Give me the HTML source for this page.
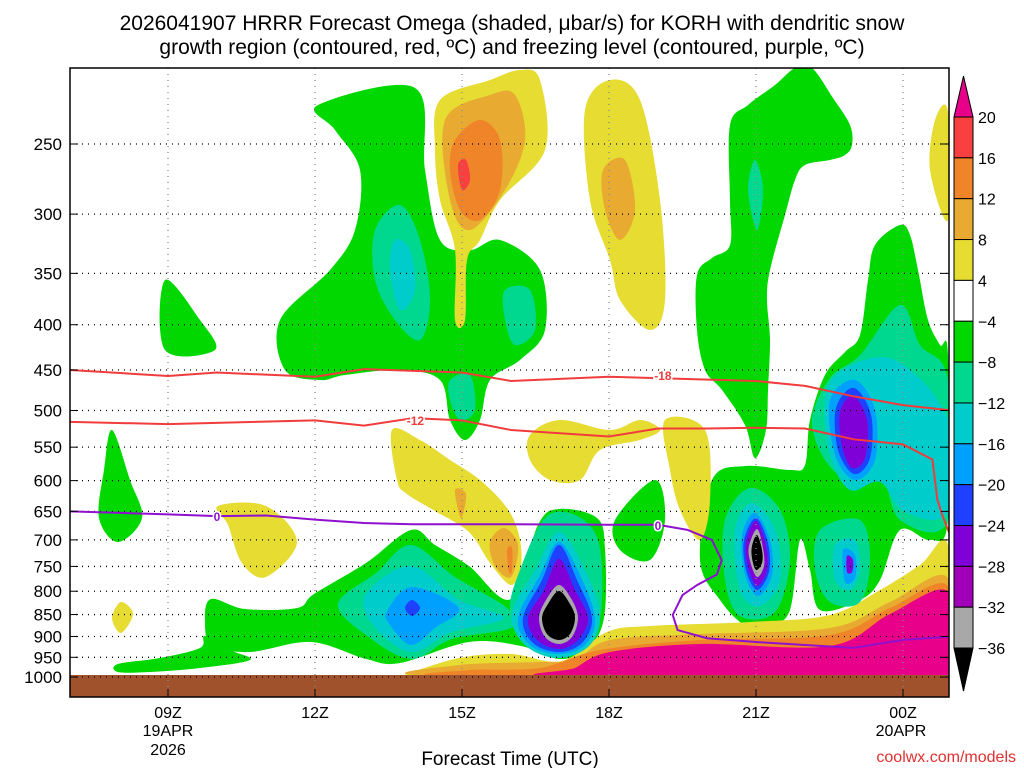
<!DOCTYPE html>
<html><head><meta charset="utf-8"><style>
body{margin:0;background:#fff;width:1024px;height:768px;overflow:hidden;font-family:"Liberation Sans",sans-serif}
svg{display:block}
</style></head><body>
<svg id="chart" width="1024" height="768" xmlns="http://www.w3.org/2000/svg">
<text x="512" y="30" font-size="21" text-anchor="middle">2026041907 HRRR Forecast Omega (shaded, μbar/s) for KORH with dendritic snow</text>
<text x="512" y="54" font-size="21" text-anchor="middle">growth region (contoured, red, ºC) and freezing level (contoured, purple, ºC)</text>
<g id="fills"></g><g id="grid"></g><g id="lines"></g><g id="axes"></g><g id="cbar"></g>
<text x="510" y="765" font-size="19" text-anchor="middle">Forecast Time (UTC)</text>
<text x="1016" y="762" font-size="16" fill="#e03030" text-anchor="end">coolwx.com/models</text>
</svg>
<script>
const NS="http://www.w3.org/2000/svg";
const L=70,R=949,T=68,B=697;
const pressureTicks=[250,300,350,400,450,500,550,600,650,700,750,800,850,900,950,1000];
const hourTicks=[9,12,15,18,21,24];
const hourLabels=["09Z","12Z","15Z","18Z","21Z","00Z"];
const cbLevels=[20,16,12,8,4,-4,-8,-12,-16,-20,-24,-28,-32,-36];
const cbColors=["#f84040","#f08428","#e8aa30","#e6dc32","#ffffff","#00d800","#00d890","#00cccc","#00a0ff","#2040ff","#8000d8","#a000b8","#a8a8a8"];
const col={20:"#e8008a",16:"#f84040",12:"#f08428",8:"#e8aa30",4:"#e6dc32","-4":"#00d800","-8":"#00d890","-12":"#00cccc","-16":"#00a0ff","-20":"#2040ff","-24":"#8000d8","-28":"#a000b8","-32":"#a8a8a8","-36":"#000000"};
const xs=h=>168+(h-9)*49;
const ys=p=>144+(Math.log(p)-Math.log(250))*384.5;
// shaded omega regions: [level, grid points in plot pixel grid (x,y)]
const regions=[
[-4,[[318,105],[415,88],[425,170],[440,240],[470,250],[500,240],[540,270],[545,330],[520,360],[490,380],[480,420],[465,440],[450,420],[440,380],[400,370],[345,375],[320,380],[285,370],[280,320],[330,270],[355,230],[360,170],[335,130]]],
[-4,[[795,68],[812,68],[833,98],[850,125],[852,145],[845,155],[830,160],[805,165],[795,180],[785,215],[770,270],[767,300],[770,340],[768,390],[766,430],[755,458],[745,425],[722,390],[705,370],[697,330],[697,275],[712,258],[730,245],[730,200],[730,125],[748,105],[775,85]]],
[-4,[[700,560],[712,480],[745,466],[790,470],[805,465],[810,420],[825,375],[845,352],[860,335],[868,280],[875,245],[900,225],[910,235],[918,270],[928,320],[940,345],[948,355],[948,520],[930,540],[900,530],[880,580],[860,600],[820,610],[810,570],[800,540],[790,610],[770,625],[745,625],[720,600]]],
[-4,[[165,280],[200,320],[215,350],[165,350]]],
[-4,[[112,430],[130,480],[142,518],[118,542],[99,518],[104,470]]],
[-4,[[211,599],[245,609],[297,608],[314,594],[366,563],[411,530],[435,545],[469,566],[511,599],[538,525],[559,509],[597,518],[605,549],[604,618],[587,649],[559,659],[521,646],[469,642],[400,663],[366,659],[311,642],[250,652],[212,645],[205,622]]],
[-4,[[205,636],[230,650],[250,660],[200,668],[150,672],[118,672],[118,664],[160,658],[200,648]]],
[-4,[[615,520],[655,480],[665,520],[650,560],[620,550]]],
[4,[[440,100],[490,80],[520,70],[540,80],[545,150],[500,200],[480,240],[467,260],[465,320],[455,320],[455,250],[440,200],[435,150]]],
[4,[[585,110],[610,80],[640,100],[660,200],[665,300],[650,330],[620,300],[610,260],[590,200]]],
[4,[[392,430],[397,480],[407,494],[435,511],[469,532],[490,563],[511,585],[521,566],[519,535],[507,508],[480,480],[450,460],[420,440]]],
[4,[[530,435],[560,420],[610,430],[640,420],[660,430],[640,440],[600,450],[580,480],[550,480],[530,460]]],
[4,[[218,506],[266,506],[297,542],[266,577],[242,563],[228,525]]],
[4,[[665,420],[705,430],[710,500],[700,540],[680,510],[670,470]]],
[4,[[935,120],[948,112],[948,220],[930,170]]],
[4,[[121,602],[133,614],[121,633],[112,618]]],
[4,[[404,675],[459,658],[511,654],[562,661],[607,632],[650,626],[750,622],[830,615],[880,590],[920,565],[948,545],[948,676],[404,676]]],
[8,[[445,120],[490,95],[515,95],[525,140],[505,190],[470,230],[450,200]]],
[8,[[603,170],[625,160],[635,210],[620,240],[605,210]]],
[8,[[490,542],[504,528],[518,545],[511,577],[495,566]]],
[8,[[455,490],[466,494],[461,518]]],
[8,[[440,676],[459,665],[540,662],[575,660],[610,640],[700,634],[830,628],[890,602],[948,578],[948,676]]],
[12,[[455,140],[480,120],[500,140],[500,190],[480,220],[460,210],[450,170]]],
[12,[[460,676],[470,670],[540,668],[600,650],[700,640],[830,635],[890,608],[948,586],[948,676]]],
[12,[[507,550],[512,548],[512,570],[509,572]]],
[16,[[458,165],[466,160],[470,180],[462,190]]],
[20,[[559,676],[575,668],[610,652],[700,644],[830,646],[890,614],[948,592],[948,676]]],
[-8,[[375,230],[400,205],[420,240],[430,300],[420,340],[395,320],[375,280]]],
[-8,[[505,290],[530,290],[535,330],[515,345],[505,320]]],
[-8,[[450,380],[470,375],[475,410],[460,420],[450,400]]],
[-8,[[755,160],[763,190],[757,230],[748,190]]],
[-8,[[338,604],[376,573],[411,545],[455,577],[507,608],[511,628],[452,639],[411,659],[366,635]]],
[-8,[[545,518],[575,515],[598,540],[602,600],[592,640],[560,658],[525,645],[510,610],[520,570]]],
[-8,[[725,520],[750,488],[780,510],[790,560],[775,612],[740,616],[725,580]]],
[-8,[[812,420],[830,378],[860,355],[900,305],[920,345],[948,380],[948,520],[900,520],[880,470],[850,480],[825,460]]],
[-8,[[820,530],[860,520],[870,560],[860,602],[830,602],[815,570]]],
[-12,[[395,240],[410,250],[415,290],[400,310],[390,270]]],
[-12,[[366,594],[411,566],[459,600],[504,618],[452,632],[411,652],[373,625]]],
[-12,[[559,532],[585,570],[600,614],[590,645],[559,658],[525,645],[512,614],[535,570]]],
[-12,[[735,530],[752,503],[775,530],[780,580],[760,606],[740,590]]],
[-12,[[825,400],[842,370],[895,360],[948,420],[948,512],[905,512],[880,482],[850,490],[830,455]]],
[-12,[[835,545],[855,540],[860,570],[850,590],[835,580]]],
[-16,[[387,611],[412,587],[459,608],[435,628],[411,645],[390,625]]],
[-16,[[559,542],[580,575],[595,618],[585,645],[559,654],[530,645],[518,618],[540,575]]],
[-16,[[742,535],[755,513],[770,540],[772,575],[758,596],[745,575]]],
[-16,[[830,400],[855,380],[875,410],[875,460],[855,480],[835,455]]],
[-16,[[843,550],[855,555],[855,578],[845,582]]],
[-20,[[412,600],[420,608],[412,616],[405,608]]],
[-20,[[559,545],[577,580],[592,618],[582,643],[559,652],[533,643],[523,618],[542,580]]],
[-20,[[744,540],[756,518],[768,543],[769,572],[757,590],[746,570]]],
[-20,[[836,408],[854,388],[871,415],[870,458],[854,474],[838,450]]],
[-24,[[559,559],[575,590],[588,618],[578,640],[559,649],[537,640],[528,618],[544,590]]],
[-24,[[746,542],[756,521],[766,546],[767,570],[757,586],[748,566]]],
[-24,[[840,412],[853,396],[867,420],[865,458],[852,468],[842,446]]],
[-24,[[847,556],[853,560],[852,572],[847,572]]],
[-32,[[559,585],[572,600],[578,618],[572,637],[559,644],[545,637],[539,618],[546,600]]],
[-32,[[749,546],[757,529],[763,548],[764,566],[757,577],[750,561]]],
[-36,[[559,591],[570,604],[575,618],[570,634],[559,640],[547,634],[542,618],[548,604]]],
[-36,[[752,546],[757,535],[762,550],[762,563],[756,570],[752,558]]]
];
// contour lines: hours and pressure (hPa)
const lineM18H=[7,9,10,12,13,15,16,18,21,22,23,24,25];
const lineM18P=[450,457,453,458,449,453,463,458,463,469,482,493,500];
const lineM12H=[7,9,12,13,14,15,16,18,19,20,21,22,23,24,24.6,24.7,24.8,25];
const lineM12P=[515,518,513,520,510,513,526,535,524,524,523,524,539,546,568,630,656,700];
const line0H=[7,9,10,11,12,13,14,16,18,19,19.6,20.1,20.3,20.2,19.8,19.5,19.3,19.4,20,21,22,23,24,25];
const line0P=[650,655,658,657,664,670,672,672,673,673,682,700,738,766,787,808,851,885,904,913,920,927,908,900];
function el(t,a,p){const e=document.createElementNS(NS,t);for(const k in a)e.setAttribute(k,a[k]);(p||document.getElementById('chart')).appendChild(e);return e;}
function smooth(pts){let d=`M${pts[0][0]},${pts[0][1]}`;const n=pts.length;for(let i=0;i<n;i++){const p0=pts[(i-1+n)%n],p1=pts[i],p2=pts[(i+1)%n],p3=pts[(i+2)%n];d+=`C${p1[0]+(p2[0]-p0[0])/6},${p1[1]+(p2[1]-p0[1])/6} ${p2[0]-(p3[0]-p1[0])/6},${p2[1]-(p3[1]-p1[1])/6} ${p2[0]},${p2[1]}`;}return d+'Z';}
const fills=document.getElementById('fills');
const cp=el('clipPath',{id:'pc'});el('rect',{x:L,y:T,width:R-L,height:B-T},cp);
fills.setAttribute('clip-path','url(#pc)');
regions.forEach((r,i)=>{const p=el('path',{d:smooth(r[1]),fill:col[r[0]]},fills);

});
const g=el('rect',{x:L,y:675,width:R-L,height:B-675,fill:'#a0522d'},fills);


const grid=document.getElementById('grid'),axes=document.getElementById('axes');
pressureTicks.forEach(p=>{const y=ys(p);
el('line',{x1:L,x2:R,y1:y,y2:y,stroke:'#000','stroke-dasharray':'1,5','stroke-width':1.3},grid);
el('line',{x1:L,x2:L+8,y1:y,y2:y,stroke:'#000'},axes);el('line',{x1:R-8,x2:R,y1:y,y2:y,stroke:'#000'},axes);
const t=el('text',{x:62,y:y+6,'font-size':17,'text-anchor':'end'},axes);t.textContent=p;

});
hourTicks.forEach((h,i)=>{const x=xs(h);
el('line',{x1:x,x2:x,y1:T,y2:B,stroke:'#888','stroke-dasharray':'1,5','stroke-width':1.3},grid);
el('line',{x1:x,x2:x,y1:B-8,y2:B,stroke:'#000'},axes);
const t=el('text',{x:x,y:718,'font-size':16,'text-anchor':'middle'},axes);t.textContent=hourLabels[i];

});
[[168,736,'19APR'],[168,755,'2026'],[901,736,'20APR']].forEach(a=>{const t=el('text',{x:a[0],y:a[1],'font-size':16,'text-anchor':'middle'},axes);t.textContent=a[2];

});
const fr=el('rect',{x:L,y:T,width:R-L,height:B-T,fill:'none',stroke:'#000','stroke-width':1.5},axes);


const lines=document.getElementById('lines');lines.setAttribute('clip-path','url(#pc)');
function drawLine(H,P,c,name,labels){const pts=H.map((h,i)=>[xs(h),ys(P[i])]);
const pl=el('polyline',{points:pts.map(p=>p.join(',')).join(' '),fill:'none',stroke:c,'stroke-width':2},lines);


labels.forEach(l=>{const x=xs(l[0]);const t=el('text',{x:x,y:l[1],'font-size':12,'font-weight':'bold',fill:c,'text-anchor':'middle',stroke:'#fff','stroke-width':3,'paint-order':'stroke'},lines);t.textContent=l[2];

});}
drawLine(lineM18H,lineM18P,'#f03c3c','contour-minus18',[[19.1,380,'-18']]);
drawLine(lineM12H,lineM12P,'#f03c3c','contour-minus12',[[14.05,425,'-12']]);
drawLine(line0H,line0P,'#9010d0','freezing-level',[[10,521,'0'],[19,530,'0']]);
const cb=document.getElementById('cbar');const cx=954,cw=19,top0=117,step=40.85;
const tt=el('polygon',{points:`${cx},${top0} ${cx+cw/2},76 ${cx+cw},${top0}`,fill:col[20],stroke:'#000'},cb);


cbColors.forEach((c,i)=>{const r=el('rect',{x:cx,y:top0+i*step,width:cw,height:step,fill:c,stroke:'#000'},cb);

});
const yb=top0+13*step;
const bt=el('polygon',{points:`${cx},${yb} ${cx+cw/2},691 ${cx+cw},${yb}`,fill:'#000',stroke:'#000'},cb);


cbLevels.forEach((v,i)=>{const t=el('text',{x:978,y:top0+i*step+6,'font-size':16},cb);t.textContent=v<0?'\u2212'+(-v):v;

});
</script>
</body></html>
